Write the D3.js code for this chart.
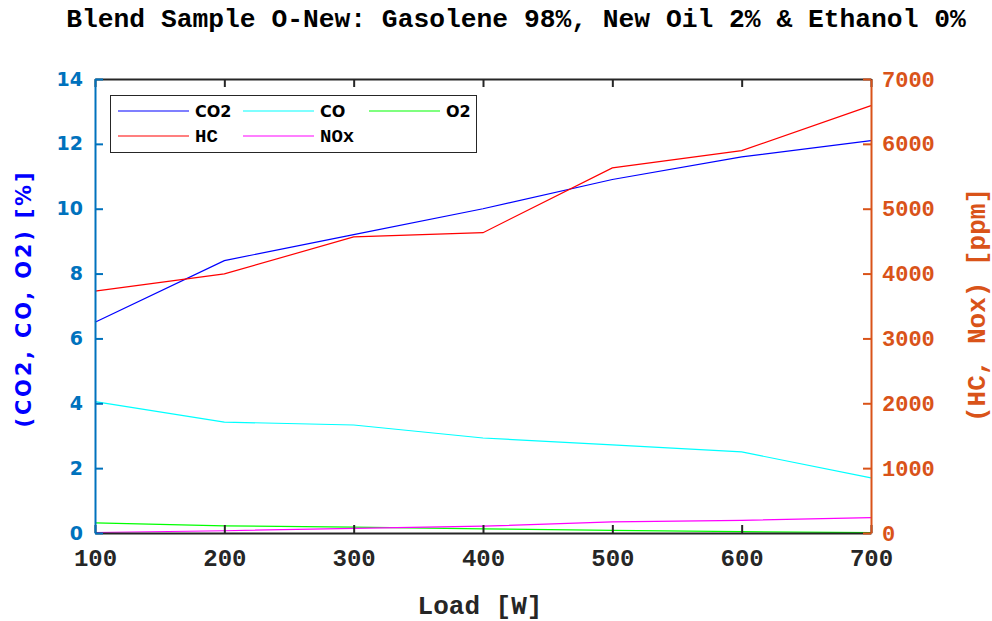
<!DOCTYPE html>
<html>
  <head>
    <meta charset="utf-8">
    <title>Blend Sample O-New</title>
    <style>
      body { margin: 0; background-color: white; }
      svg { display: block; }
    </style>
    <script src="https://d3js.org/d3.v7.min.js"></script>
  </head>
  <body>
    <svg id="chart"></svg>
    <script>
      // data
      var loads = [100, 200, 300, 400, 500, 600, 700];
      var co2 = [6.5, 8.4, 9.2, 10.0, 10.9, 11.6, 12.1];
      var co = [4.05, 3.42, 3.33, 2.93, 2.72, 2.5, 1.7];
      var o2 = [0.31, 0.22, 0.18, 0.13, 0.08, 0.04, 0.01];
      var hc = [3730, 3995, 4565, 4630, 5630, 5895, 6590];
      var nox = [8, 35, 72, 105, 170, 196, 236];
      var leftTicks = [0, 2, 4, 6, 8, 10, 12, 14];
      var rightTicks = [0, 1000, 2000, 3000, 4000, 5000, 6000, 7000];

      var width = 992, height = 621;
      var margin = {left: 95, right: 121, top: 79, bottom: 88};
      var mono = "'Liberation Mono', 'Courier New', monospace";
      var sans = "'DejaVu Sans', sans-serif";

      var svg = d3.select("#chart").attr("width", width).attr("height", height);

      var x = d3.scaleLinear().domain([100, 700]).range([margin.left, width - margin.right]);
      var yL = d3.scaleLinear().domain([0, 14]).range([height - margin.bottom, margin.top]);
      var yR = d3.scaleLinear().domain([0, 7000]).range([height - margin.bottom, margin.top]);

      var series = [
        {name: "CO2", values: co2, color: "#0000ff", scale: yL, font: sans, size: 16},
        {name: "CO", values: co, color: "#00ffff", scale: yL, font: sans, size: 16},
        {name: "O2", values: o2, color: "#00ff00", scale: yL, font: sans, size: 16},
        {name: "HC", values: hc, color: "#ff0000", scale: yR, font: mono, size: 19},
        {name: "NOx", values: nox, color: "#ff00ff", scale: yR, font: mono, size: 19}
      ];

      // lines
      series.forEach(function(s) {
        var line = d3.line()
          .x(function(d, i) { return x(loads[i]); })
          .y(function(d) { return s.scale(d); });
        svg.append("path")
          .datum(s.values)
          .attr("d", line)
          .attr("fill", "none")
          .attr("stroke", s.color)
          .attr("stroke-width", 1.2);
      });

      // axes, ticks pointing inward
      var xAxisBottom = svg.append("g").attr("transform", "translate(0," + yL(0) + ")")
        .call(d3.axisBottom(x).tickValues(loads).tickSizeInner(-8).tickSizeOuter(0).tickPadding(16));
      var xAxisTop = svg.append("g").attr("transform", "translate(0," + yL(14) + ")")
        .call(d3.axisTop(x).tickValues(loads).tickSizeInner(-8).tickSizeOuter(0).tickFormat(""));
      [xAxisBottom, xAxisTop].forEach(function(g) {
        g.select(".domain").attr("stroke", "#262626").attr("stroke-width", 2);
        g.selectAll(".tick line").attr("stroke", "#262626").attr("stroke-width", 2);
      });
      xAxisBottom.selectAll("text")
        .attr("fill", "#262626")
        .style("font-family", mono).style("font-weight", "bold").style("font-size", "24px");

      var yAxisLeft = svg.append("g").attr("transform", "translate(" + x(100) + ",0)")
        .call(d3.axisLeft(yL).tickValues(leftTicks).tickSizeInner(-8).tickSizeOuter(0).tickPadding(12));
      yAxisLeft.select(".domain").attr("stroke", "#0072bd").attr("stroke-width", 2);
      yAxisLeft.selectAll(".tick line").attr("stroke", "#0072bd").attr("stroke-width", 2);
      yAxisLeft.selectAll("text")
        .attr("fill", "#0072bd")
        .style("font-family", sans).style("font-weight", "bold").style("font-size", "19px");

      var yAxisRight = svg.append("g").attr("transform", "translate(" + x(700) + ",0)")
        .call(d3.axisRight(yR).tickValues(rightTicks).tickFormat(d3.format("d"))
          .tickSizeInner(-8).tickSizeOuter(0).tickPadding(11));
      yAxisRight.select(".domain").attr("stroke", "#d95319").attr("stroke-width", 2);
      yAxisRight.selectAll(".tick line").attr("stroke", "#d95319").attr("stroke-width", 2);
      yAxisRight.selectAll("text")
        .attr("fill", "#d95319")
        .style("font-family", mono).style("font-weight", "bold").style("font-size", "22px");

      // titles
      svg.append("text")
        .attr("x", 516).attr("y", 27)
        .attr("text-anchor", "middle")
        .style("font-family", mono).style("font-weight", "bold").style("font-size", "26.3px")
        .attr("fill", "#000")
        .text("Blend Sample O-New: Gasolene 98%, New Oil 2% & Ethanol 0%");

      svg.append("text")
        .attr("x", 480).attr("y", 614)
        .attr("text-anchor", "middle")
        .style("font-family", mono).style("font-weight", "bold").style("font-size", "26px")
        .attr("fill", "#262626")
        .text("Load [W]");

      svg.append("text")
        .attr("transform", "translate(31,300) rotate(-90)")
        .attr("text-anchor", "middle")
        .style("font-family", sans).style("font-weight", "bold").style("font-size", "21px")
        .attr("textLength", 255).attr("lengthAdjust", "spacing")
        .attr("fill", "#0000ff")
        .text("(CO2, CO, O2) [%]");

      svg.append("text")
        .attr("transform", "translate(985,305) rotate(-90)")
        .attr("text-anchor", "middle")
        .style("font-family", mono).style("font-weight", "bold").style("font-size", "26px")
        .attr("fill", "#d95319")
        .text("(HC, Nox) [ppm]");

      // legend
      var legend = svg.append("g");
      legend.append("rect")
        .attr("x", 110.5).attr("y", 95.5).attr("width", 366).attr("height", 57)
        .attr("fill", "white").attr("stroke", "#262626").attr("stroke-width", 1);
      var colX = [118, 243, 369];
      var rowY = [111, 136];
      series.forEach(function(s, i) {
        var cx = colX[i % 3], cy = rowY[Math.floor(i / 3)];
        legend.append("line")
          .attr("x1", cx).attr("x2", cx + 71).attr("y1", cy).attr("y2", cy)
          .attr("stroke", s.color).attr("stroke-width", 1.2);
        legend.append("text")
          .attr("x", cx + 77).attr("y", cy + 6)
          .style("font-family", s.font).style("font-weight", "bold").style("font-size", s.size + "px")
          .attr("fill", "#000")
          .text(s.name);
      });
    </script>
  </body>
</html>
